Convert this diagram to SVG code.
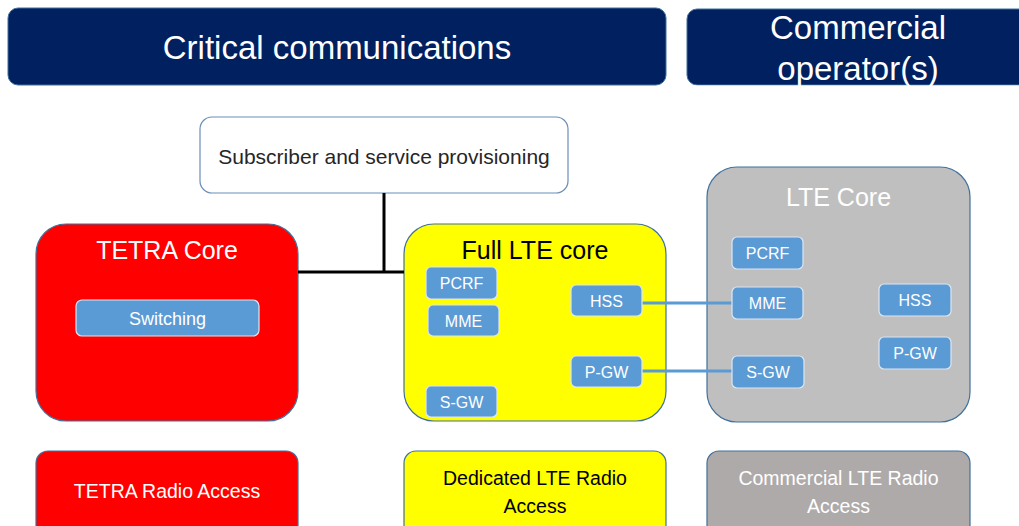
<svg xmlns="http://www.w3.org/2000/svg" width="1019" height="526" viewBox="0 0 1019 526">
<style>
text{font-family:"Liberation Sans",Arial,sans-serif;text-anchor:middle}
.hdr{fill:#002060;stroke:#41719C;stroke-width:1}
.hdrt{fill:#fff;font-size:33px}
.big{stroke:#41719C;stroke-width:1.2}
.title{font-size:25px}
.sm{fill:#5B9BD5;stroke:#DCE6F2;stroke-width:1.2}
.smt{fill:#fff;font-size:16px}
.bot{font-size:19.5px}
.link{stroke:#5B9BD5;stroke-width:3;fill:none}
.blk{stroke:#000;stroke-width:3;fill:none}
</style>
<rect width="1019" height="526" fill="#fff"/>
<g id="hdr-critical">
<rect class="hdr" x="8" y="8" width="658" height="77" rx="10"/>
<text class="hdrt" x="337" y="59">Critical communications</text>
</g>
<g id="hdr-commercial">
<rect class="hdr" x="687" y="9" width="345" height="76" rx="10"/>
<text class="hdrt" x="858" y="39">Commercial</text>
<text class="hdrt" x="858" y="80">operator(s)</text>
</g>
<rect x="680" y="85.5" width="339" height="20" fill="#fff"/>
<g id="provisioning">
<rect x="200" y="117" width="368" height="76" rx="12" fill="#fff" stroke="#6A8DB8" stroke-width="1.2"/>
<text x="384" y="164" font-size="21" fill="#262626">Subscriber and service provisioning</text>
</g>
<g id="tetra-core">
<rect class="big" x="36" y="224" width="262" height="197" rx="30" fill="#FF0000"/>
<text class="title" x="167" y="259" fill="#fff">TETRA Core</text>
</g>
<g id="full-lte-core">
<rect class="big" x="404" y="224" width="262" height="197" rx="30" fill="#FFFF00"/>
<text class="title" x="535" y="259" fill="#000">Full LTE core</text>
</g>
<g id="lte-core">
<rect class="big" x="707" y="167" width="263" height="255" rx="30" fill="#BFBFBF"/>
<text class="title" x="838.5" y="206" fill="#fff">LTE Core</text>
</g>
<g id="connectors">
<polyline class="blk" points="384,193 384,272"/>
<polyline class="blk" points="298,272 404,272"/>
<line class="link" x1="642" y1="303" x2="732" y2="303"/>
<line class="link" x1="642" y1="371" x2="732" y2="371"/>
</g>
<g id="switching">
<rect class="sm" x="76" y="300" width="183" height="36" rx="6"/>
<text x="167.5" y="324.5" fill="#fff" font-size="18">Switching</text>
</g>
<g id="f-pcrf"><rect class="sm" x="426" y="267" width="71" height="32" rx="5"/><text class="smt" x="461.5" y="289">PCRF</text></g>
<g id="f-mme"><rect class="sm" x="428" y="305" width="71" height="31" rx="5"/><text class="smt" x="463.5" y="326.5">MME</text></g>
<g id="f-hss"><rect class="sm" x="571" y="285" width="71" height="31" rx="5"/><text class="smt" x="606.5" y="306.5">HSS</text></g>
<g id="f-pgw"><rect class="sm" x="571" y="356" width="71" height="31" rx="5"/><text class="smt" x="606.5" y="377.5">P-GW</text></g>
<g id="f-sgw"><rect class="sm" x="426" y="386" width="71" height="31" rx="5"/><text class="smt" x="461.5" y="407.5">S-GW</text></g>
<g id="c-pcrf"><rect class="sm" x="732" y="237" width="71" height="32" rx="5"/><text class="smt" x="767.5" y="259">PCRF</text></g>
<g id="c-mme"><rect class="sm" x="732" y="287" width="71" height="32" rx="5"/><text class="smt" x="767.5" y="309">MME</text></g>
<g id="c-hss"><rect class="sm" x="879" y="284" width="72" height="32" rx="5"/><text class="smt" x="915" y="306">HSS</text></g>
<g id="c-pgw"><rect class="sm" x="879" y="337" width="72" height="32" rx="5"/><text class="smt" x="915" y="359">P-GW</text></g>
<g id="c-sgw"><rect class="sm" x="732" y="356" width="72" height="32" rx="5"/><text class="smt" x="768" y="378">S-GW</text></g>
<g id="tetra-radio">
<rect class="big" x="36" y="451" width="262" height="90" rx="12" fill="#FF0000"/>
<text class="bot" x="167" y="498" fill="#fff">TETRA Radio Access</text>
</g>
<g id="dedicated-radio">
<rect class="big" x="404" y="451" width="262" height="90" rx="12" fill="#FFFF00"/>
<text class="bot" x="535" y="485" fill="#000">Dedicated LTE Radio</text>
<text class="bot" x="535" y="513" fill="#000">Access</text>
</g>
<g id="commercial-radio">
<rect class="big" x="707" y="451" width="263" height="90" rx="12" fill="#AEAAAA"/>
<text class="bot" x="838.5" y="485" fill="#fff">Commercial LTE Radio</text>
<text class="bot" x="838.5" y="513" fill="#fff">Access</text>
</g>
</svg>
